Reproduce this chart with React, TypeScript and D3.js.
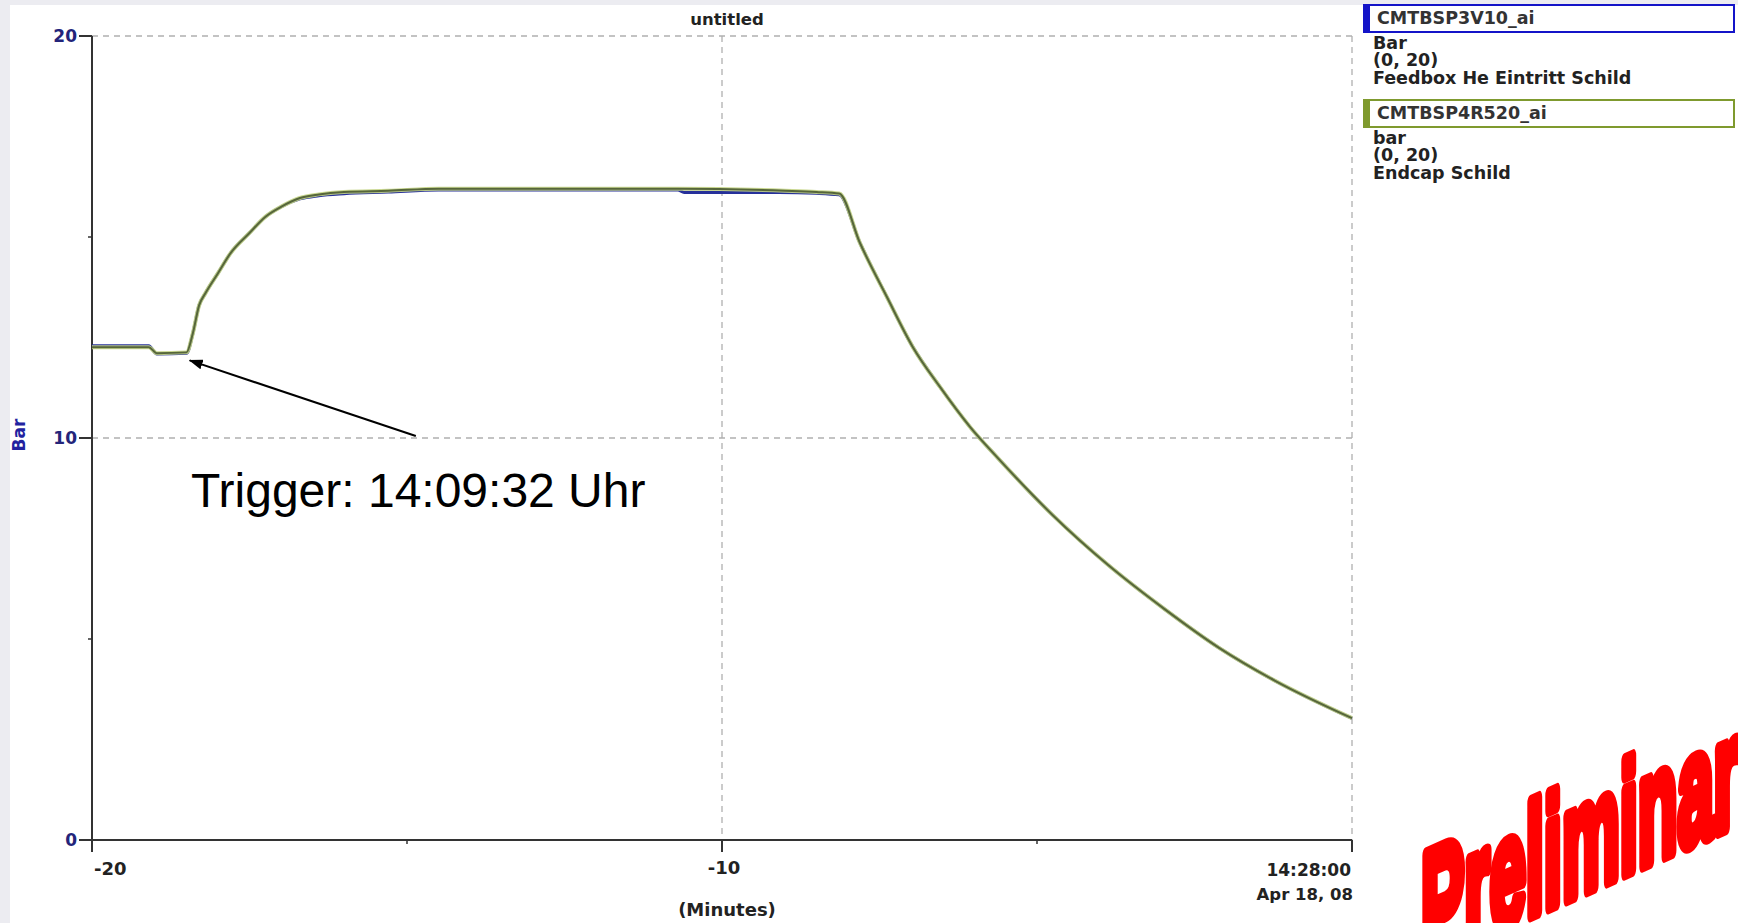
import React from "react";
import * as d3 from "d3";

const W = 1738;
const H = 923;

// ---- data ----
const greenTimes = [-20, -19.1, -18.97, -18.5, -18.4, -18.3, -18.2, -18.0, -17.8, -17.5, -17.25, -17.0, -16.7, -16.4, -16.0, -15.3, -14.5, -10.7, -9.0, -8.5, -8.14, -7.81, -7.38, -6.97, -6.54, -6.06, -5.62, -4.75, -3.87, -2.98, -2.11, -1.22, 0];
const greenValues = [12.26, 12.26, 12.11, 12.13, 12.6, 13.3, 13.6, 14.1, 14.6, 15.1, 15.5, 15.75, 15.97, 16.06, 16.12, 16.15, 16.2, 16.2, 16.15, 16.12, 16.08, 14.85, 13.5, 12.26, 11.27, 10.27, 9.5, 8.08, 6.84, 5.75, 4.78, 3.96, 3.03];

const blueTimes = [-20, -19.1, -18.97, -18.5, -18.4, -18.3, -18.2, -18.0, -17.8, -17.5, -17.25, -17.0, -16.7, -16.4, -16.0, -15.3, -14.5, -10.7, -10.6, -9.1, -8.5, -8.14, -7.81, -7.38, -6.97, -6.54, -6.06, -5.62, -4.75, -3.87, -2.98, -2.11, -1.22, 0];
const blueValues = [12.29, 12.29, 12.09, 12.11, 12.6, 13.3, 13.6, 14.1, 14.6, 15.1, 15.5, 15.75, 15.95, 16.03, 16.08, 16.12, 16.17, 16.17, 16.11, 16.11, 16.09, 16.05, 14.85, 13.5, 12.26, 11.27, 10.27, 9.5, 8.08, 6.84, 5.75, 4.78, 3.96, 3.03];

const yMajorTicks = [0, 10, 20];
const yMinorTicks = [5, 15];
const xMajorTicks = [-20, -10, 0];
const xMinorTicks = [-15, -5];
const xTickLabels = ["-20", "-10"];
const xEndLabel = ["14:28:00", "Apr 18, 08"];

const legendEntries = [
  { name: "CMTBSP3V10_ai", unit: "Bar", range: "(0, 20)", desc: "Feedbox He Eintritt Schild", color: "#1414c8" },
  { name: "CMTBSP4R520_ai", unit: "bar", range: "(0, 20)", desc: "Endcap Schild", color: "#7f9a2e" },
];

const triggerLabel = "Trigger: 14:09:32 Uhr";
const arrowFrom = { t: -14.86, v: 10.05 };
const arrowTo = { t: -18.45, v: 11.93 };

export default function App() {
  const x = d3.scaleLinear().domain([-20, 0]).range([92, 1352]);
  const y = d3.scaleLinear().domain([0, 20]).range([840, 36]);

  const line = d3
    .line<[number, number]>()
    .x((d) => x(d[0]))
    .y((d) => y(d[1]))
    .curve(d3.curveMonotoneX);

  const greenPts = greenTimes.map((t, i) => [t, greenValues[i]] as [number, number]);
  const bluePts = blueTimes.map((t, i) => [t, blueValues[i]] as [number, number]);

  const axisFont = "'DejaVu Sans', sans-serif";
  const navy = "#24247a";
  const axisColor = "#333";

  return (
    <svg width={W} height={H} style={{ position: "absolute", left: 0, top: 0 }} xmlns="http://www.w3.org/2000/svg">
      <defs>
        <marker id="arrowhead" markerWidth="14" markerHeight="10" refX="13" refY="5" orient="auto" markerUnits="userSpaceOnUse">
          <path d="M0,0 L14,5 L0,10 Z" fill="#000" />
        </marker>
      </defs>
      <rect x={0} y={0} width={W} height={H} fill="#ececf1" />
      <rect x={10} y={5} width={W - 10} height={H - 5} fill="#ffffff" />

      {/* title */}
      <text x={727} y={25} textAnchor="middle" fontFamily={axisFont} fontWeight="bold" fontSize={16.5} fill="#222">untitled</text>

      {/* grid */}
      {[10, 20].map((v) => (
        <line key={"gy" + v} x1={x(-20)} x2={x(0)} y1={y(v)} y2={y(v)} stroke="#b0b0b0" strokeWidth={1.3} strokeDasharray="6 5" />
      ))}
      {[-10, 0].map((t) => (
        <line key={"gx" + t} x1={x(t)} x2={x(t)} y1={y(20)} y2={y(0)} stroke="#b0b0b0" strokeWidth={1.3} strokeDasharray="6 5" />
      ))}

      {/* y axis */}
      <line x1={x(-20)} x2={x(-20)} y1={y(20)} y2={y(0) + 12} stroke={axisColor} strokeWidth={2} />
      {yMajorTicks.map((v) => (
        <g key={"yt" + v}>
          <line x1={x(-20) - 13} x2={x(-20)} y1={y(v)} y2={y(v)} stroke={axisColor} strokeWidth={2} />
          <text x={x(-20) - 15} y={y(v) + 6} textAnchor="end" fontFamily={axisFont} fontWeight="bold" fontSize={17} fill={navy}>{v}</text>
        </g>
      ))}
      {yMinorTicks.map((v) => (
        <line key={"ym" + v} x1={x(-20) - 4} x2={x(-20)} y1={y(v)} y2={y(v)} stroke={axisColor} strokeWidth={1.5} />
      ))}
      <text transform={`translate(25, ${y(10) - 3}) rotate(-90)`} textAnchor="middle" fontFamily={axisFont} fontWeight="bold" fontSize={17} fill="#2222a0">Bar</text>

      {/* x axis */}
      <line x1={x(-20)} x2={x(0)} y1={y(0)} y2={y(0)} stroke={axisColor} strokeWidth={2} />
      {xMajorTicks.map((t) => (
        <line key={"xt" + t} x1={x(t)} x2={x(t)} y1={y(0)} y2={y(0) + 12} stroke={axisColor} strokeWidth={2} />
      ))}
      {xMinorTicks.map((t) => (
        <line key={"xm" + t} x1={x(t)} x2={x(t)} y1={y(0)} y2={y(0) + 4} stroke={axisColor} strokeWidth={1.5} />
      ))}
      <text x={x(-20) + 2} y={875} fontFamily={axisFont} fontWeight="bold" fontSize={18} fill="#222">{xTickLabels[0]}</text>
      <text x={x(-10) + 2} y={874} textAnchor="middle" fontFamily={axisFont} fontWeight="bold" fontSize={18} fill="#222">{xTickLabels[1]}</text>
      <text x={x(0) - 1} y={876} textAnchor="end" fontFamily={axisFont} fontWeight="bold" fontSize={17} fill="#222">{xEndLabel[0]}</text>
      <text x={x(0) + 1} y={900} textAnchor="end" fontFamily={axisFont} fontWeight="bold" fontSize={16.5} fill="#222">{xEndLabel[1]}</text>
      <text x={727} y={916} textAnchor="middle" fontFamily={axisFont} fontWeight="bold" fontSize={18} fill="#222">(Minutes)</text>

      {/* series */}
      <path d={line(bluePts) || ""} fill="none" stroke="#26309a" strokeWidth={3.2} strokeLinejoin="round" />
      <path d={line(greenPts) || ""} fill="none" stroke="#c4d486" strokeWidth={4} strokeLinejoin="round" opacity={0.9} />
      <path d={line(greenPts) || ""} fill="none" stroke="#56663a" strokeWidth={2} strokeLinejoin="round" />

      {/* annotation */}
      <line x1={x(arrowFrom.t)} y1={y(arrowFrom.v)} x2={x(arrowTo.t)} y2={y(arrowTo.v)} stroke="#000" strokeWidth={2} markerEnd="url(#arrowhead)" />
      <text x={191} y={507} fontFamily="'Liberation Sans', Arial, sans-serif" fontSize={48} fill="#000">{triggerLabel}</text>

      {/* legend */}
      {legendEntries.map((e, i) => {
        const base = i === 0 ? 5 : 100;
        return (
          <g key={e.name}>
            <rect x={1364} y={base} width={370} height={27} fill="#fff" stroke={e.color} strokeWidth={2} />
            <rect x={1363} y={base - 1} width={7} height={29} fill={e.color} />
            <text x={1377} y={base + 19} fontFamily={axisFont} fontWeight="bold" fontSize={17.5} fill="#333">{e.name}</text>
            <text x={1373} y={base + 44} fontFamily={axisFont} fontWeight="bold" fontSize={17.5} fill="#222">{e.unit}</text>
            <text x={1373} y={base + 61} fontFamily={axisFont} fontWeight="bold" fontSize={17.5} fill="#222">{e.range}</text>
            <text x={1373} y={base + 79} fontFamily={axisFont} fontWeight="bold" fontSize={17.5} fill="#222">{e.desc}</text>
          </g>
        );
      })}

      {/* watermark */}
      <g transform="translate(1421, 964) skewY(-24) scale(1, 2.4)">
        <text x={0} y={0} fontFamily="'Liberation Sans', Arial, sans-serif" fontWeight="bold" fontSize={65} fill="#ff0000" stroke="#ff0000" strokeWidth={6} strokeLinejoin="round">Preliminary</text>
      </g>
    </svg>
  );
}
